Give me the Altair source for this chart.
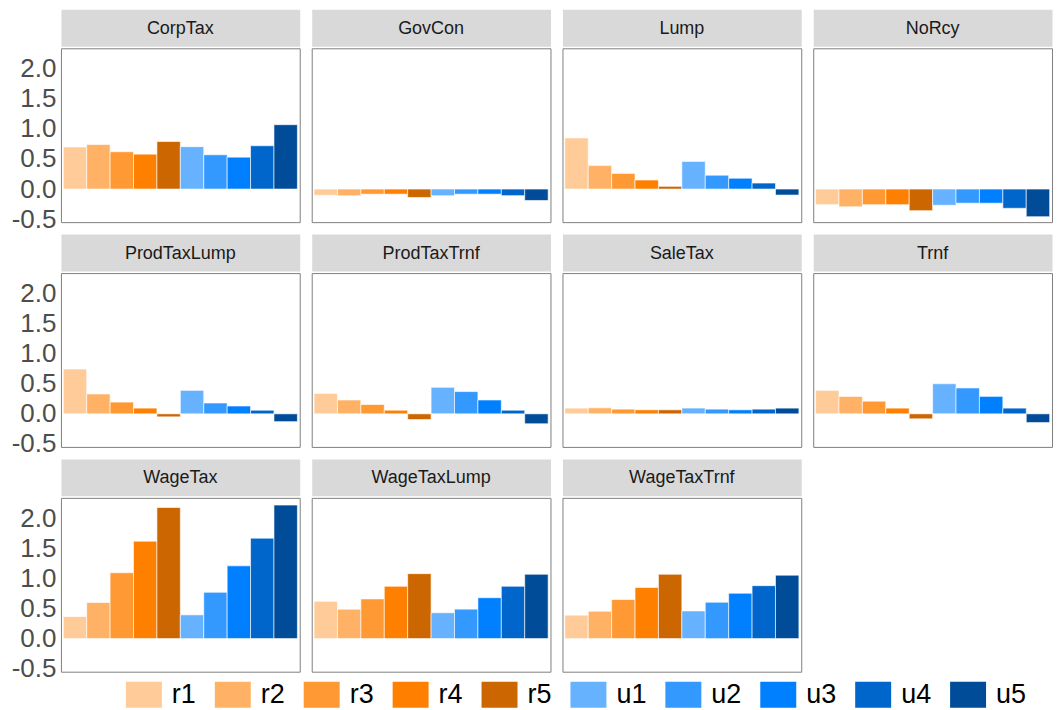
import altair as alt
import pandas as pd

scenarios = ["r1", "r2", "r3", "r4", "r5", "u1", "u2", "u3", "u4", "u5"]
colors = ["#FFCC99", "#FFB266", "#FF9933", "#FF8000", "#CC6600",
          "#66B2FF", "#3399FF", "#0080FF", "#0066CC", "#004C99"]
facets = ["CorpTax", "GovCon", "Lump", "NoRcy", "ProdTaxLump", "ProdTaxTrnf",
          "SaleTax", "Trnf", "WageTax", "WageTaxLump", "WageTaxTrnf"]

corp_tax = [0.70, 0.74, 0.62, 0.58, 0.79, 0.705, 0.57, 0.53, 0.72, 1.07]
gov_con = [-0.105, -0.11, -0.085, -0.085, -0.14, -0.11, -0.085, -0.085, -0.11, -0.19]
lump = [0.85, 0.39, 0.26, 0.15, 0.045, 0.46, 0.23, 0.18, 0.10, -0.10]
no_rcy = [-0.26, -0.295, -0.26, -0.26, -0.36, -0.27, -0.235, -0.235, -0.32, -0.46]
prod_tax_lump = [0.745, 0.33, 0.195, 0.095, -0.05, 0.39, 0.18, 0.13, 0.06, -0.13]
prod_tax_trnf = [0.34, 0.23, 0.155, 0.06, -0.095, 0.44, 0.37, 0.23, 0.06, -0.165]
sale_tax = [0.095, 0.10, 0.078, 0.067, 0.067, 0.095, 0.078, 0.067, 0.078, 0.095]
trnf = [0.39, 0.29, 0.21, 0.095, -0.083, 0.50, 0.43, 0.29, 0.095, -0.145]
wage_tax = [0.367, 0.60, 1.095, 1.62, 2.18, 0.395, 0.77, 1.21, 1.67, 2.22]
wage_tax_lump = [0.62, 0.49, 0.66, 0.87, 1.08, 0.43, 0.49, 0.68, 0.87, 1.07]
wage_tax_trnf = [0.39, 0.455, 0.65, 0.85, 1.07, 0.46, 0.605, 0.755, 0.88, 1.055]

series = [corp_tax, gov_con, lump, no_rcy, prod_tax_lump, prod_tax_trnf,
          sale_tax, trnf, wage_tax, wage_tax_lump, wage_tax_trnf]

rows = []
for f, vals in zip(facets, series):
    for s, v in zip(scenarios, vals):
        rows.append({"facet": f, "scenario": s, "value": v})
df = pd.DataFrame(rows)

FONT = "Liberation Sans"
PW, PH, SH = 239, 174, 37

label_expr = ("datum.value < 0 ? '-' + format(-datum.value, '.1f') : "
              "format(datum.value, '.1f')")


def panel(name, col):
    head = alt.Chart(pd.DataFrame({"t": [name]})).mark_text(
        fontSize=18, color="#1A1A1A", font=FONT
    ).encode(
        x=alt.value(PW / 2), y=alt.value(SH / 2 + 1), text="t:N"
    ).properties(
        width=PW, height=SH,
        view=alt.ViewBackground(fill="#D9D9D9", stroke="transparent")
    )
    if col == 0:
        yaxis = alt.Axis(values=[-0.5, 0, 0.5, 1, 1.5, 2], labelExpr=label_expr,
                         grid=False, ticks=False, domain=False, labelFontSize=26,
                         labelColor="#4D4D4D", labelPadding=5, labelFont=FONT,
                         title=None)
    else:
        yaxis = None
    plot = alt.Chart(df).transform_filter(
        alt.datum.facet == name
    ).mark_bar(stroke="white", strokeWidth=0.6).encode(
        x=alt.X("scenario:N", sort=scenarios, axis=None,
                scale=alt.Scale(paddingInner=0, paddingOuter=0.1)),
        y=alt.Y("value:Q", axis=yaxis,
                scale=alt.Scale(domain=[-0.55, 2.34], nice=False, zero=False)),
        color=alt.Color("scenario:N", sort=scenarios,
                        scale=alt.Scale(domain=scenarios, range=colors),
                        legend=alt.Legend(
                            title=None, orient="none", direction="horizontal",
                            columns=10, legendX=65, legendY=668,
                            symbolType="M-1,-0.72H1V0.72H-1Z", symbolSize=1296,
                            symbolStrokeWidth=0, labelFontSize=27,
                            labelColor="#000000", labelFont=FONT,
                            labelOffset=10, columnPadding=18)),
    ).properties(
        width=PW, height=PH,
        view=alt.ViewBackground(stroke="#7F7F7F", strokeWidth=1)
    )
    return alt.vconcat(head, plot, spacing=0)


panels = [panel(f, i % 4) for i, f in enumerate(facets)]

chart = alt.concat(*panels, columns=4, spacing={"row": 0, "column": 10}).properties(
    padding={"left": 2, "top": 0, "right": 0, "bottom": 0}
).configure(font=FONT).configure_view(stroke="#7F7F7F")

chart.save("out.html", embed_options={"renderer": "svg", "actions": False})
